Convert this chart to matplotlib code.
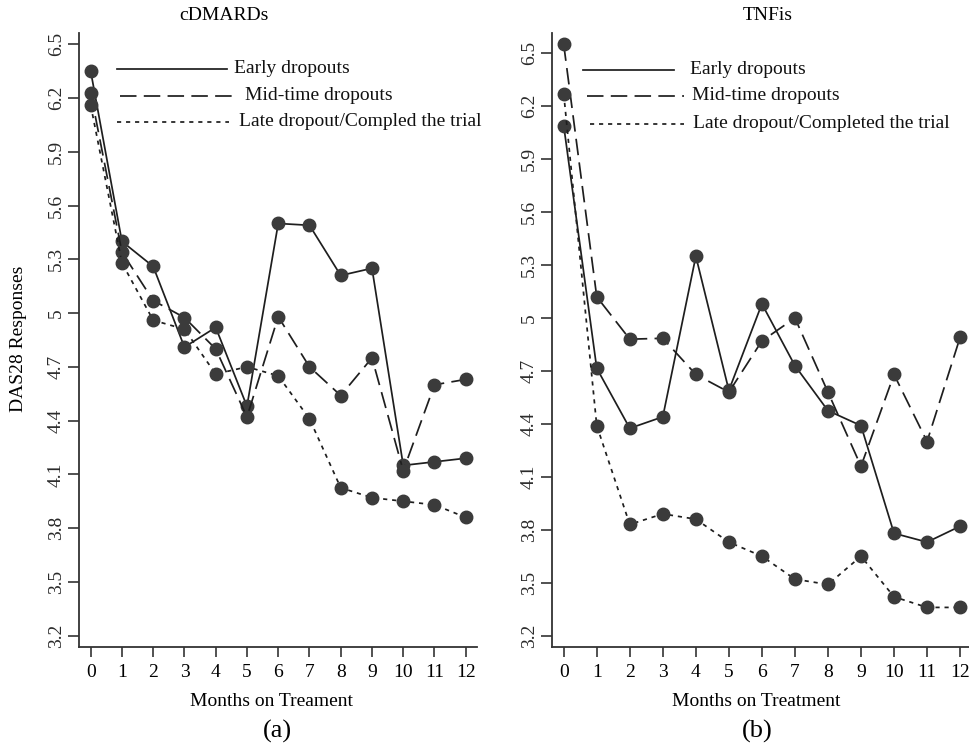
import matplotlib
matplotlib.use("Agg")
import matplotlib.pyplot as plt

plt.rcParams["font.family"] = ["Liberation Serif", "DejaVu Serif"]

months = list(range(13))

# cDMARDs
cd_early = [6.35, 5.40, 5.26, 4.81, 4.92, 4.48, 5.50, 5.49, 5.21, 5.25, 4.15, 4.17, 4.19]
cd_mid = [6.23, 5.34, 5.07, 4.975, 4.80, 4.42, 4.98, 4.70, 4.54, 4.75, 4.12, 4.60, 4.63]
cd_late = [6.16, 5.28, 4.96, 4.91, 4.66, 4.70, 4.65, 4.41, 4.025, 3.97, 3.95, 3.93, 3.86]

# TNFis
tn_early = [6.09, 4.715, 4.375, 4.44, 5.35, 4.59, 5.08, 4.73, 4.475, 4.39, 3.78, 3.73, 3.82]
tn_mid = [6.55, 5.12, 4.88, 4.885, 4.68, 4.58, 4.87, 5.00, 4.58, 4.16, 4.68, 4.30, 4.89]
tn_late = [6.27, 4.39, 3.83, 3.89, 3.86, 3.73, 3.65, 3.52, 3.49, 3.65, 3.42, 3.36, 3.36]

yticks = [3.2, 3.5, 3.8, 4.1, 4.4, 4.7, 5.0, 5.3, 5.6, 5.9, 6.2, 6.5]
ytick_labels = ["3.2", "3.5", "3.8", "4.1", "4.4", "4.7", "5", "5.3", "5.6", "5.9", "6.2", "6.5"]

W, H = 969, 748
LINE = "#1e1e1e"
MARK = "#3b3b3b"
AXC = "#333333"
styles = {
    "solid": "-",
    "dash": (0, (9.5, 4.2)),
    "dot": (0, (2.4, 2.8)),
}

fig = plt.figure(figsize=(W / 100, H / 100), dpi=100)


def px(x0, y0, x1, y1):
    return [x0 / W, 1 - y1 / H, (x1 - x0) / W, (y1 - y0) / H]


def panel(rect, xlim, ylim, series, legend_rows):
    ax = fig.add_axes(rect)
    for vals, ls in series:
        ax.plot(months, vals, color=LINE, lw=1.25, linestyle=styles[ls],
                marker="o", ms=9, mfc=MARK, mec=MARK, zorder=3)
    ax.set_xlim(*xlim)
    ax.set_ylim(*ylim)
    ax.set_xticks(months)
    ax.set_xticklabels([str(m) for m in months], fontsize=14)
    ax.set_yticks(yticks)
    ax.set_yticklabels(ytick_labels, fontsize=14, rotation=90, va="center",
                       color="#2a2a2a")
    ax.tick_params(axis="x", length=7, width=1.2, color=AXC, pad=5)
    ax.tick_params(axis="y", length=8, width=1.2, color=AXC, pad=2)
    for s in ("top", "right"):
        ax.spines[s].set_visible(False)
    for s in ("left", "bottom"):
        ax.spines[s].set_color(AXC)
        ax.spines[s].set_linewidth(1.3)
    # legend drawn as in the original (text offsets differ per row)
    for (lx0, lx1, ly, tx, label, ls) in legend_rows:
        ax.plot([lx0, lx1], [ly, ly], transform=ax.transAxes, color=LINE,
                lw=1.25, linestyle=styles[ls], clip_on=False)
        ax.text(tx, ly, label, transform=ax.transAxes, fontsize=14,
                va="center", ha="left", color="#111111")
    return ax


# left panel
lx0, rx0, ty, by = 79, 477, 33, 647.3
lw_ = rx0 - lx0
lh = by - ty


def fx(x):
    return (x - lx0) / lw_


def fy(y):
    return 1 - (y - ty) / lh


panel(px(lx0, ty, rx0, by), (-0.374, 12.36), (3.135, 6.563),
      [(cd_early, "solid"), (cd_mid, "dash"), (cd_late, "dot")],
      [(fx(117), fx(227), fy(68.5), fx(234), "Early dropouts", "solid"),
       (fx(120), fx(236), fy(96), fx(245), "Mid-time dropouts", "dash"),
       (fx(117), fx(229), fy(121.5), fx(239), "Late dropout/Compled the trial", "dot")])

# right panel
lx0, rx0 = 551.7, 969
lw_ = rx0 - lx0
panel(px(lx0, ty, rx0, by), (-0.364, 12.27), (3.134, 6.615),
      [(tn_early, "solid"), (tn_mid, "dash"), (tn_late, "dot")],
      [(fx(583), fx(674), fy(70), fx(690), "Early dropouts", "solid"),
       (fx(587), fx(684), fy(95.5), fx(692), "Mid-time dropouts", "dash"),
       (fx(590), fx(684), fy(124), fx(693), "Late dropout/Completed the trial", "dot")])

fig.text(224 / W, 1 - 16 / H, "cDMARDs", ha="center", va="center", fontsize=14)
fig.text(768 / W, 1 - 16 / H, "TNFis", ha="center", va="center", fontsize=14)
fig.text(272 / W, 1 - 701 / H, "Months on Treament", ha="center", va="center", fontsize=14)
fig.text(756 / W, 1 - 701 / H, "Months on Treatment", ha="center", va="center", fontsize=14)
fig.text(277 / W, 1 - 731 / H, "(a)", ha="center", va="center", fontsize=19)
fig.text(757 / W, 1 - 731 / H, "(b)", ha="center", va="center", fontsize=19)
fig.text(19 / W, 1 - 339 / H, "DAS28 Responses", ha="center", va="center",
         rotation=90, fontsize=14)

fig.savefig("out.png", dpi=100)
